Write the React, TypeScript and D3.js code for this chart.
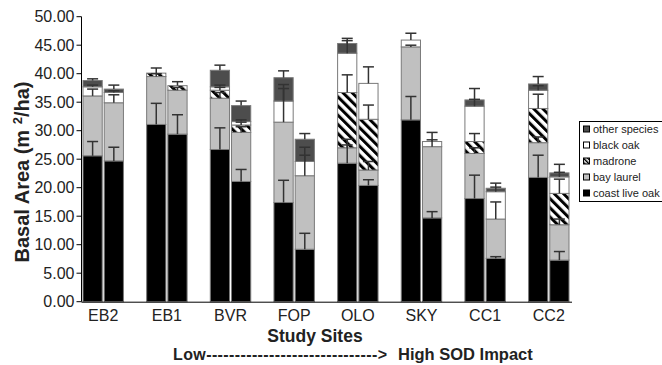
import React from "react";
import * as d3 from "d3";

const sites = ["EB2", "EB1", "BVR", "FOP", "OLO", "SKY", "CC1", "CC2"];
const speciesKeys = ["coastLiveOak", "bayLaurel", "madrone", "blackOak", "other"];
const legendLabels = ["other species", "black oak", "madrone", "bay laurel", "coast live oak"];

// two bars per site (16 bars)
const coastLiveOak = [25.6, 24.7, 31.1, 29.4, 26.7, 21.1, 17.4, 9.2, 24.3, 20.4, 31.9, 14.7, 18.1, 7.6, 21.8, 7.3];
const bayLaurel = [10.5, 10.2, 8.4, 7.7, 9.0, 8.6, 14.1, 12.9, 2.7, 2.7, 12.8, 12.5, 7.9, 6.9, 6.1, 6.2];
const madrone = [0, 0, 0.6, 0.8, 1.4, 1.3, 0, 0, 9.7, 8.9, 0, 0, 2.1, 0, 6.0, 5.5];
const blackOak = [1.6, 1.8, 0, 0, 0.6, 0.6, 3.7, 2.5, 6.9, 6.3, 1.2, 0.9, 6.2, 4.8, 3.2, 2.9];
const other = [1.1, 0.6, 0, 0, 2.9, 2.8, 4.1, 3.9, 1.7, 0, 0, 0, 1.1, 0.6, 1.1, 0.7];

const coastLiveOakErr = [2.5, 2.4, 3.7, 3.4, 3.8, 2.1, 3.9, 2.8, 3.2, 1.0, 4.1, 1.1, 4.1, 0.3, 3.9, 1.5];
const bayLaurelErr = [1.2, 1.4, 0.5, 0.5, 1.0, 1.0, 5.9, 3.6, 1.5, 1.5, 0.3, 1.2, 1.0, 3.0, 1.0, 1.0];
const madroneErr = [0, 0, 0.9, 0.7, 0.5, 0.5, 0, 0, 3.1, 2.5, 0, 0, 1.4, 0, 2.5, 2.5];
const blackOakErr = [0.3, 0.3, 0, 0, 0.3, 0.3, 2.9, 2.5, 2.2, 2.9, 1.2, 1.6, 1.2, 0.8, 0.8, 0.8];
const otherErr = [0.3, 0.7, 0, 0, 0.9, 0.8, 1.2, 1.0, 0.9, 0, 0, 0, 2.0, 0.9, 1.3, 1.5];

const yTicks = [0, 5, 10, 15, 20, 25, 30, 35, 40, 45, 50];

const FONT = "'Liberation Sans', Arial, Helvetica, sans-serif";

export default function App() {
  const W = 662;
  const H = 365;
  const y = d3.scaleLinear().domain([0, 50]).range([301.7, 16.7]);
  const x = d3.scaleLinear().domain([0, 23]).range([82, 570]);

  const values = [coastLiveOak, bayLaurel, madrone, blackOak, other];
  const errs = [coastLiveOakErr, bayLaurelErr, madroneErr, blackOakErr, otherErr];
  const fills = ["#000000", "#c0c0c0", "url(#hatch)", "#ffffff", "#4d4d4d"];

  const rows = d3.range(16).map((i) => {
    const r: any = { i };
    speciesKeys.forEach((k, s) => (r[k] = values[s][i]));
    return r;
  });
  const stacked = d3.stack<any>().keys(speciesKeys)(rows);

  const slotOf = (b: number) => Math.floor(b / 2) * 3 + (b % 2);
  const barX = (b: number) => x(slotOf(b)) + 1;
  const barW = (b: number) => x(slotOf(b) + 1) - x(slotOf(b)) - 2;

  const legendFills = [fills[4], fills[3], fills[2], fills[1], fills[0]];

  return (
    <svg width={W} height={H} style={{ position: "absolute", left: 0, top: 0, background: "#fff" }} fontFamily={FONT}>
      <defs>
        <pattern id="hatch" patternUnits="userSpaceOnUse" width={6.5} height={6.5} patternTransform="rotate(-45)">
          <rect x={0} y={0} width={6.5} height={6.5} fill="#fff" />
          <rect x={0} y={0} width={3} height={6.5} fill="#000" />
        </pattern>
        <pattern id="hatchSmall" patternUnits="userSpaceOnUse" width={3} height={3} patternTransform="rotate(-45)">
          <rect x={0} y={0} width={3} height={3} fill="#fff" />
          <rect x={0} y={0} width={1.5} height={3} fill="#000" />
        </pattern>
      </defs>

      {/* bars */}
      {stacked.map((layer, s) => (
        <g key={speciesKeys[s]}>
          {layer.map((d, b) =>
            d[1] - d[0] > 0 ? (
              <rect
                key={b}
                x={barX(b)}
                y={y(d[1])}
                width={barW(b)}
                height={y(d[0]) - y(d[1])}
                fill={fills[s]}
                stroke="#7a7a7a"
                strokeWidth={1}
              />
            ) : null
          )}
        </g>
      ))}

      {/* error bars */}
      {stacked.map((layer, s) => (
        <g key={"e" + s} stroke="#333" strokeWidth={1.5}>
          {layer.map((d, b) => {
            const e = errs[s][b];
            if (!(d[1] - d[0] > 0) || e <= 0) return null;
            const cx = barX(b) + barW(b) / 2;
            return (
              <g key={b}>
                <line x1={cx} x2={cx} y1={y(d[1])} y2={y(d[1] + e)} />
                <line x1={cx - 5.5} x2={cx + 5.5} y1={y(d[1] + e)} y2={y(d[1] + e)} />
              </g>
            );
          })}
        </g>
      ))}

      {/* y axis */}
      <line x1={81.5} x2={81.5} y1={y(50)} y2={y(0)} stroke="#000" strokeWidth={1} />
      {yTicks.map((t) => (
        <g key={t}>
          <line x1={76.5} x2={81.5} y1={y(t)} y2={y(t)} stroke="#000" />
          <text x={74.5} y={y(t)} dy="0.35em" textAnchor="end" fontSize={16} fill="#222">
            {t.toFixed(2)}
          </text>
        </g>
      ))}
      {/* x axis */}
      <line x1={81.5} x2={572} y1={y(0) + 0.5} y2={y(0) + 0.5} stroke="#000" strokeWidth={1} />
      {sites.map((s, g) => (
        <text key={s} x={x(g * 3 + 1)} y={321} textAnchor="middle" fontSize={16} fill="#222">
          {s}
        </text>
      ))}

      <text
        transform={`translate(29,172) rotate(-90)`}
        textAnchor="middle"
        fontSize={20}
        fontWeight="bold"
        fill="#222"
      >
        Basal Area (m <tspan dy={-7} fontSize={13}>2</tspan>
        <tspan dy={7}>/ha)</tspan>
      </text>

      <text x={315} y={342} textAnchor="middle" fontSize={17.5} fontWeight="bold" fill="#222">
        Study Sites
      </text>
      <text x={173} y={360} fontSize={16} fontWeight="bold" fill="#222" textLength={214} lengthAdjust="spacing">
        Low------------------------------&gt;
      </text>
      <text x={398} y={360} fontSize={16.5} fontWeight="bold" fill="#222">
        High SOD Impact
      </text>

      {/* legend */}
      <rect x={579.5} y={121.5} width={90} height={80} fill="#fff" stroke="#000" strokeWidth={1} />
      {legendLabels.map((l, i) => (
        <g key={l}>
          <rect
            x={583.5}
            y={129 + i * 16 - 3}
            width={6}
            height={6}
            fill={legendFills[i] === "url(#hatch)" ? "url(#hatchSmall)" : legendFills[i]}
            stroke="#000"
            strokeWidth={1}
          />
          <text x={593} y={129 + i * 16} dy="0.35em" fontSize={11} fill="#222">
            {l}
          </text>
        </g>
      ))}
    </svg>
  );
}
